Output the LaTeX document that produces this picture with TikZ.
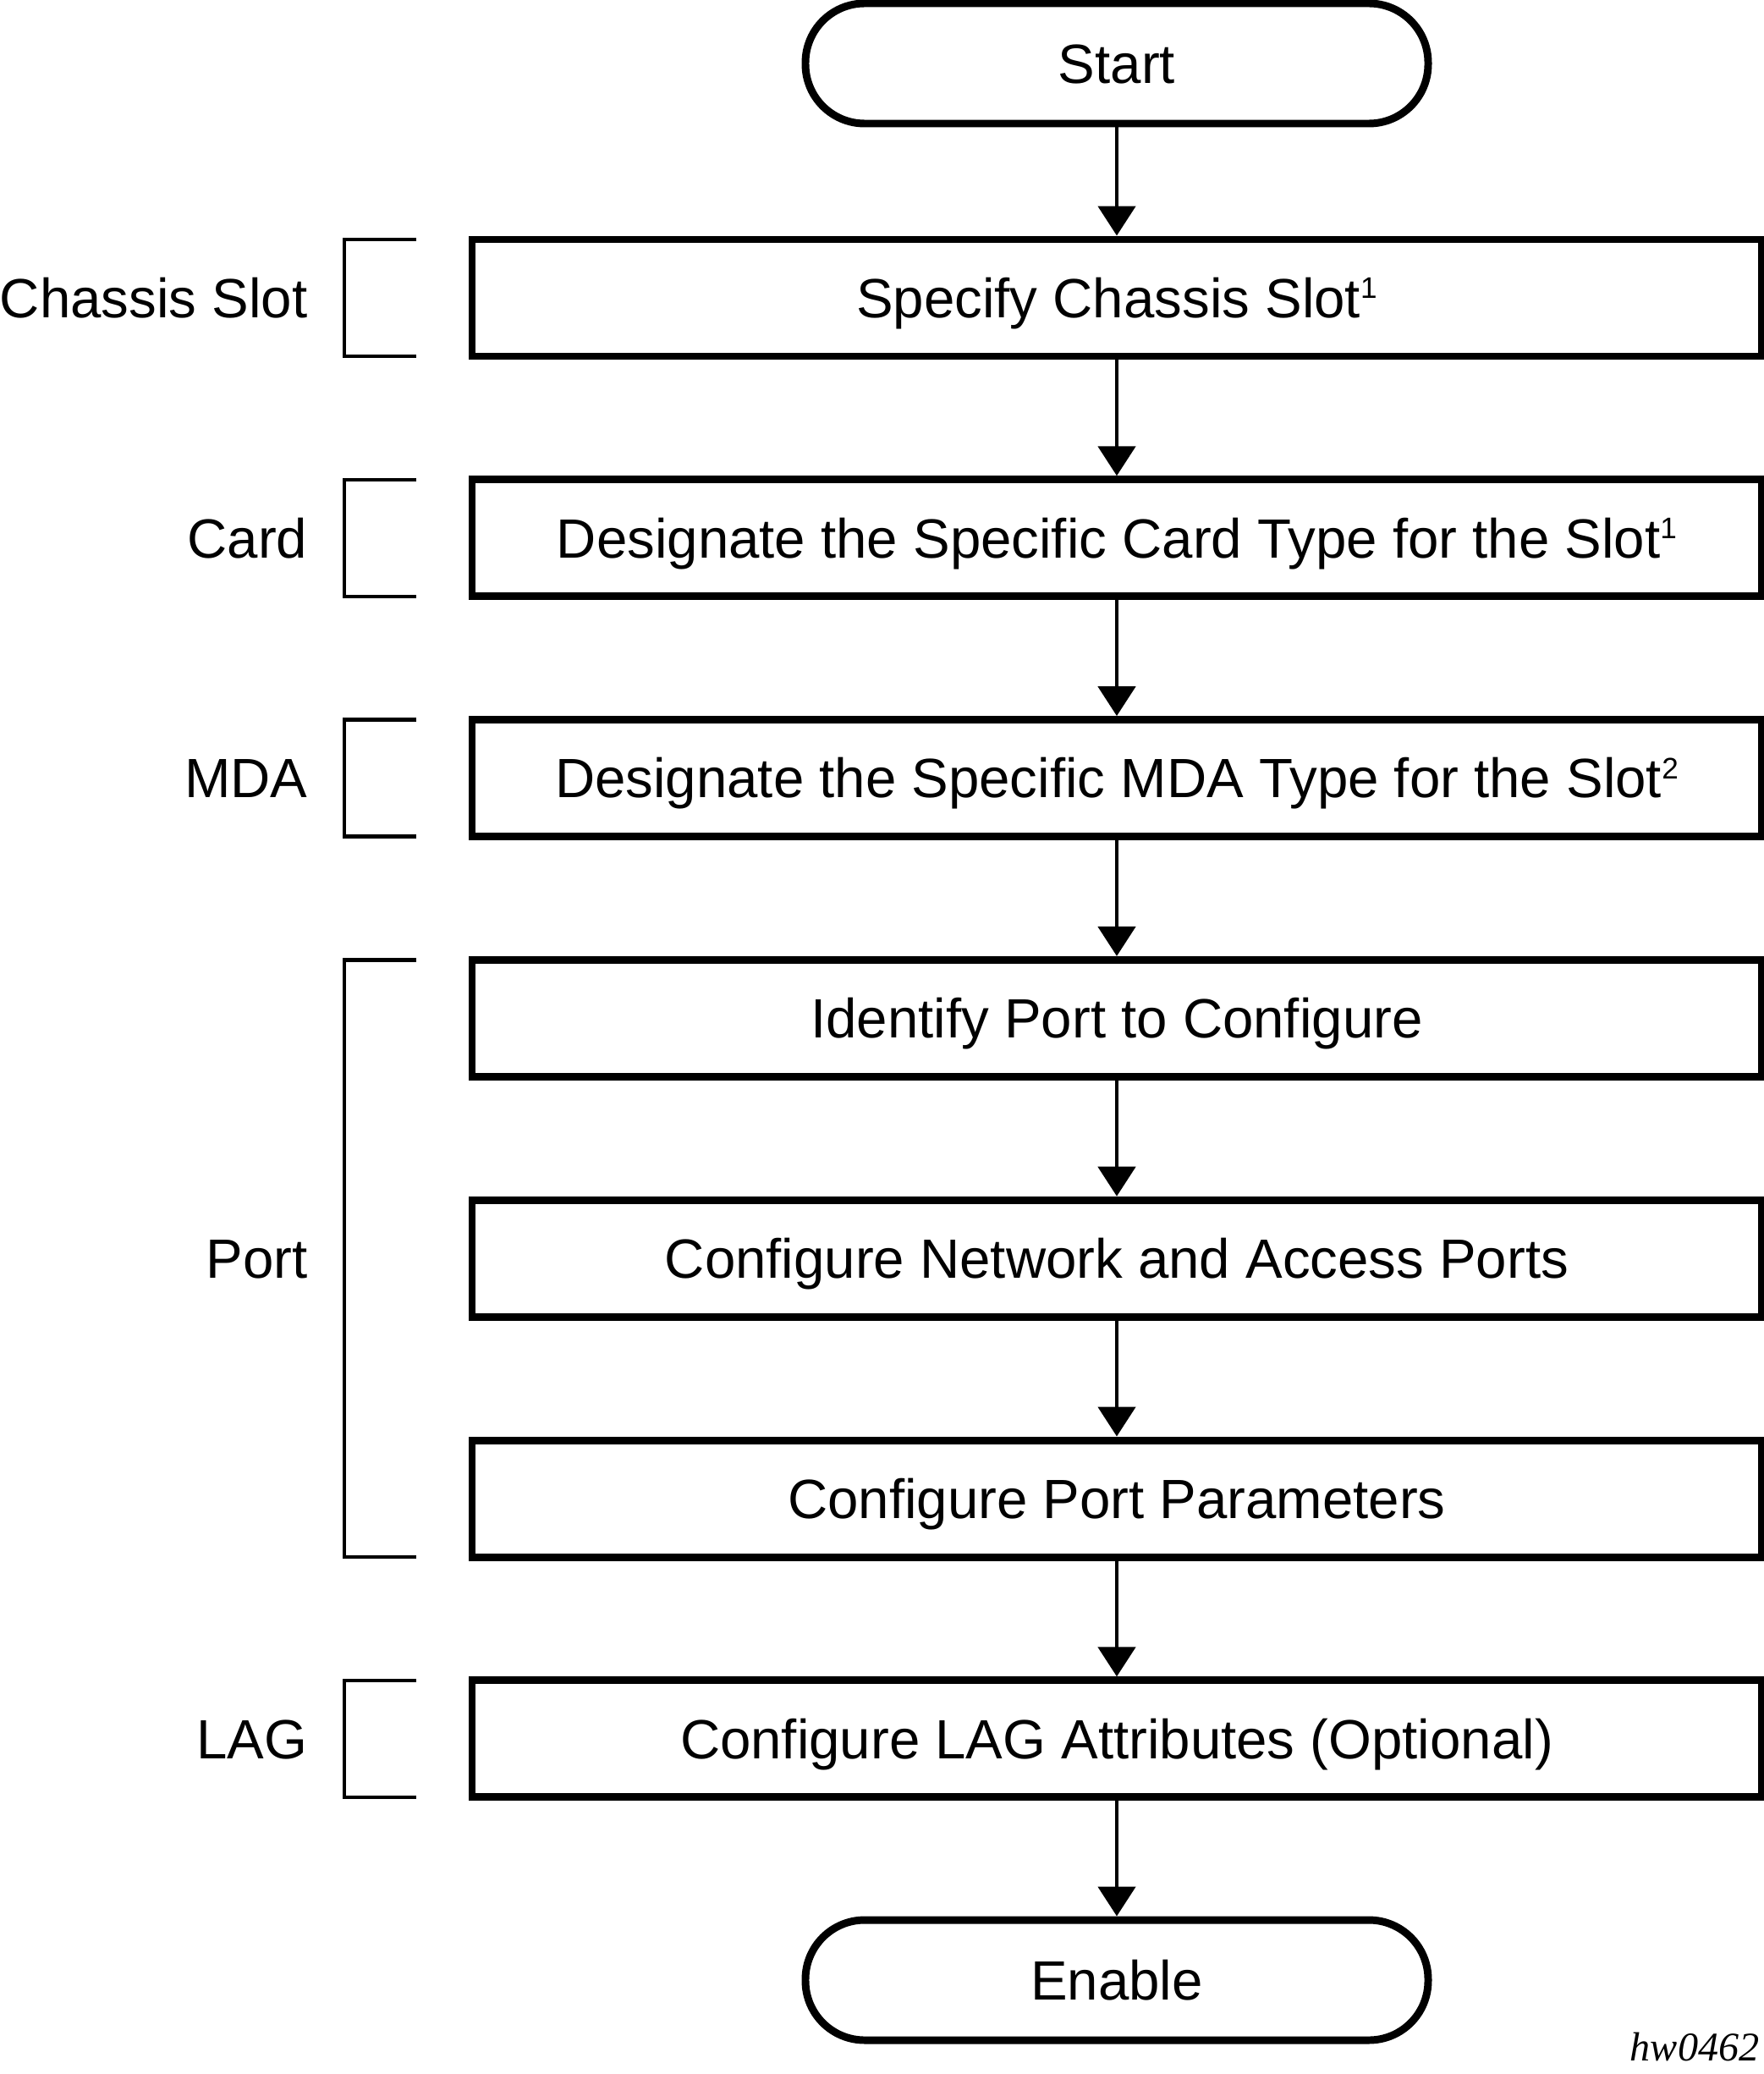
\documentclass[tikz,border=0pt]{standalone}
\usepackage{fontspec}
\setmainfont{Liberation Sans}
\newfontfamily\serialfont{Liberation Serif}
\usepackage{tikz}
\usetikzlibrary{arrows.meta}
\newcommand{\noteref}[1]{\raisebox{6.5pt}{\fontsize{10}{10}\selectfont #1}}
\tikzset{
  stepbox/.style={draw, line width=2.55pt, minimum width=15.24cm, minimum height=1.38cm, inner sep=0pt, text height=13.3pt, text depth=0pt},
  term/.style={draw, line width=2.55pt, rounded corners=0.70cm, minimum width=7.36cm, minimum height=1.42cm, inner sep=0pt, text height=13.3pt, text depth=0pt},
  flow/.style={line width=1.4pt, -{Triangle[length=3.5mm,width=4.4mm]}},
  bracket/.style={line width=1.3pt},
  side/.style={anchor=east, inner sep=0pt, text height=13.3pt, text depth=0pt}
}

\begin{document}
\begin{tikzpicture}[font=\fontsize{18.6}{22}\selectfont]
    \useasboundingbox (0,0) rectangle (20.85,-24.51);
    % flow steps
    \node[term] (start) at (13.2,-0.75) {Start};
    \node[stepbox] (slot) at (13.2,-3.52) {Specify Chassis Slot\noteref{1}};
    \node[stepbox] (card) at (13.2,-6.358) {Designate the Specific Card Type for the Slot\noteref{1}};
    \node[stepbox] (mda) at (13.2,-9.196) {Designate the Specific MDA Type for the Slot\noteref{2}};
    \node[stepbox] (ident) at (13.2,-12.034) {Identify Port to Configure};
    \node[stepbox] (netacc) at (13.2,-14.872) {Configure Network and Access Ports};
    \node[stepbox] (params) at (13.2,-17.71) {Configure Port Parameters};
    \node[stepbox] (lag) at (13.2,-20.548) {Configure LAG Attributes (Optional)};
    \node[term] (enable) at (13.2,-23.40) {Enable};

    \draw[flow] (start) -- (slot);
    \draw[flow] (slot) -- (card);
    \draw[flow] (card) -- (mda);
    \draw[flow] (mda) -- (ident);
    \draw[flow] (ident) -- (netacc);
    \draw[flow] (netacc) -- (params);
    \draw[flow] (params) -- (lag);
    \draw[flow] (lag) -- (enable);

    % side brackets and labels
    \draw[bracket] (4.92,-2.83) -- (4.07,-2.83) -- (4.07,-4.21) -- (4.92,-4.21);
    \node[side] (lslot) at (3.64,-3.52) {Chassis Slot};
    \draw[bracket] (4.92,-5.668) -- (4.07,-5.668) -- (4.07,-7.048) -- (4.92,-7.048);
    \node[side] (lcard) at (3.64,-6.358) {Card};
    \draw[bracket] (4.92,-8.506) -- (4.07,-8.506) -- (4.07,-9.886) -- (4.92,-9.886);
    \node[side] (lmda) at (3.64,-9.196) {MDA};
    \draw[bracket] (4.92,-11.344) -- (4.07,-11.344) -- (4.07,-18.40) -- (4.92,-18.40);
    \node[side] (lport) at (3.64,-14.872) {Port};
    \draw[bracket] (4.92,-19.858) -- (4.07,-19.858) -- (4.07,-21.238) -- (4.92,-21.238);
    \node[side] (llag) at (3.64,-20.548) {LAG};

    \node[anchor=base east, inner sep=0pt, font=\serialfont\itshape\fontsize{13.7}{16}\selectfont] (tag) at (20.80,-24.35) {hw0462};
\end{tikzpicture}
\end{document}
